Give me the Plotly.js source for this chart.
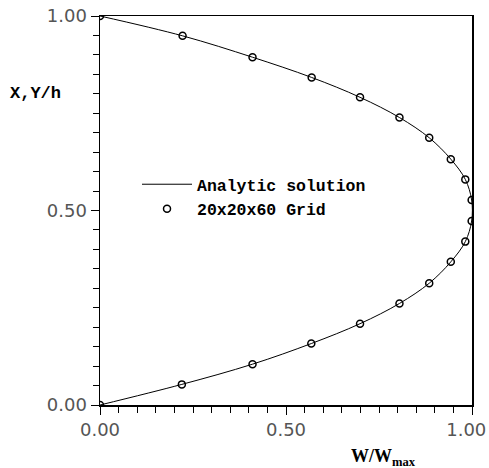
<!DOCTYPE html>
<html>
<head>
<meta charset="utf-8">
<script src="https://cdn.plot.ly/plotly-3.0.1.min.js"></script>
<style>html,body{margin:0;padding:0;background:#fff;}#chart{width:489px;height:468px;}</style>
</head>
<body>
<div id="chart"></div>
<script>
// Grid solution (20x20x60) : normalized velocity W/Wmax vs X,Y/h
const gridY = [0.000, 0.053, 0.105, 0.158, 0.209, 0.261, 0.313, 0.368, 0.420, 0.473,
               0.527, 0.580, 0.632, 0.687, 0.739, 0.791, 0.842, 0.894, 0.949, 1.000];
const gridW = [0.000, 0.220, 0.410, 0.568, 0.699, 0.805, 0.885, 0.943, 0.982, 0.999,
               0.999, 0.982, 0.943, 0.885, 0.805, 0.699, 0.569, 0.410, 0.222, 0.000];
// Analytic solution curve
const anaY = [0.000, 0.053, 0.105, 0.158, 0.209, 0.261, 0.313, 0.368, 0.420, 0.473,
              0.527, 0.580, 0.632, 0.687, 0.739, 0.791, 0.842, 0.894, 0.949, 1.000];
const anaW = [0.000, 0.220, 0.410, 0.568, 0.699, 0.805, 0.885, 0.943, 0.982, 0.999,
              0.999, 0.982, 0.943, 0.885, 0.805, 0.699, 0.569, 0.410, 0.222, 0.000];
const tickVals = [0, 0.5, 1];
const tickText = ['0.00', '0.50', '1.00'];

const traces = [
  {
    x: anaW, y: anaY, type: 'scatter', mode: 'lines',
    name: 'Analytic solution',
    line: {color: '#000', width: 1, shape: 'spline', smoothing: 1}
  },
  {
    x: gridW, y: gridY, type: 'scatter', mode: 'markers',
    name: '20x20x60 Grid',
    marker: {symbol: 'circle-open', size: 7, color: '#000', line: {width: 1.5, color: '#000'}}
  }
];

function makeAxis(extra) {
  return Object.assign({
    range: [0, 1], showgrid: false, zeroline: false,
    showline: true, linecolor: '#000', linewidth: 1.5, mirror: true,
    ticks: 'outside', ticklen: 8, tickcolor: '#000',
    tickmode: 'array', tickvals: tickVals.slice(), ticktext: tickText.slice(),
    tickfont: {family: 'DejaVu Sans', size: 18, color: '#555'},
    minor: {dtick: 0.05, ticks: 'outside', ticklen: 6, tickcolor: '#000', showgrid: false}
  }, extra);
}

// pad the last x label (non-breaking spaces kept by a zero-width char) so it stays inside the page
const xTickText = tickText.map((t, i) => i === tickText.length - 1 ? t + '\u00a0\u00a0\u200b' : t);

const layout = {
  width: 489, height: 468,
  margin: {l: 100, r: 17, t: 16, b: 63},
  showlegend: true,
  legend: {
    x: 0.0995, y: 0.536, xanchor: 'left', yanchor: 'middle',
    bgcolor: 'rgba(0,0,0,0)', borderwidth: 0,
    font: {family: 'Liberation Mono', size: 16.5, color: '#000', weight: 'bold'},
    tracegroupgap: 0, itemwidth: 50
  },
  xaxis: makeAxis({ticklabeloverflow: 'allow', ticktext: xTickText}),
  yaxis: makeAxis({ticksuffix: '\u00a0\u00a0'}),
  annotations: [
    {
      text: '<b>X,Y/h</b>', xref: 'paper', yref: 'paper',
      x: -0.247, y: 0.802, xanchor: 'left', yanchor: 'middle', showarrow: false,
      font: {family: 'Liberation Mono', size: 17, color: '#000'}
    },
    {
      text: '<b>W/W<sub>max</sub></b>', xref: 'paper', yref: 'paper',
      x: 0.67, y: -0.135, xanchor: 'left', yanchor: 'middle', showarrow: false,
      font: {family: 'Liberation Serif', size: 18, color: '#000'}
    }
  ]
};

Plotly.newPlot('chart', traces, layout, {displayModeBar: false, staticPlot: true});
</script>
</body>
</html>
